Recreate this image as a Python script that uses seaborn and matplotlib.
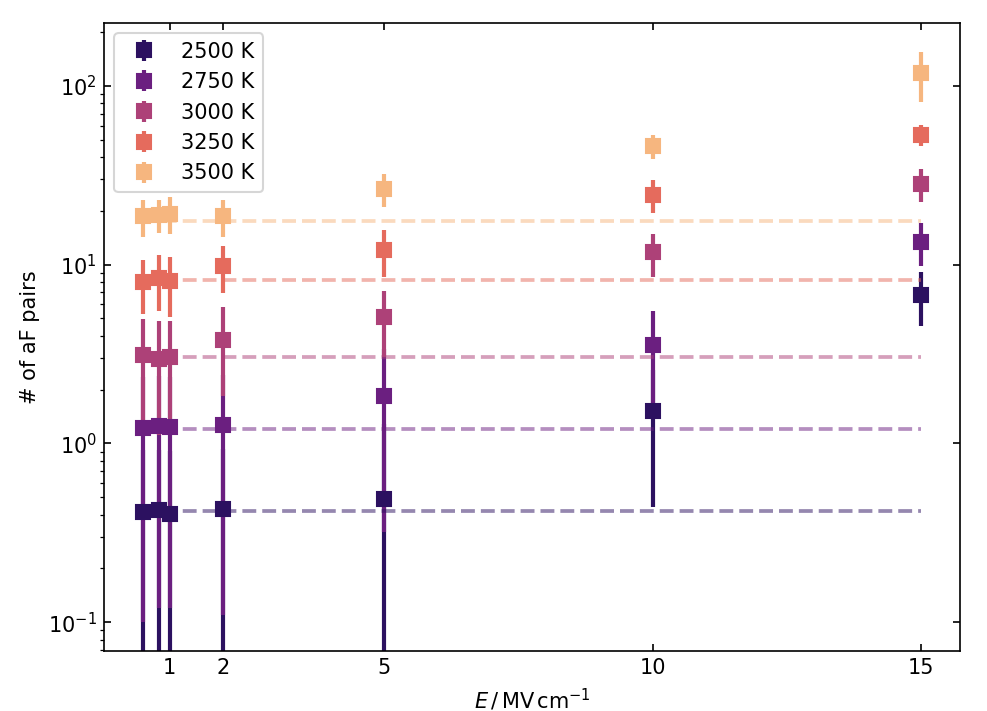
import numpy as np
import pandas as pd
import seaborn as sns
import matplotlib.pyplot as plt

# field strengths (MV/cm)
field = [0.5, 0.8, 1, 2, 5, 10, 15]
temps = ["2500 K", "2750 K", "3000 K", "3250 K", "3500 K"]

# number of aF pairs per temperature, and their error bars
pairs_2500 = [0.415, 0.423, 0.405, 0.428, 0.486, 1.51, 6.80]
pairs_2750 = [1.22, 1.25, 1.23, 1.26, 1.84, 3.57, 13.4]
pairs_3000 = [3.14, 2.97, 3.03, 3.81, 5.10, 11.7, 28.4]
pairs_3250 = [7.97, 8.38, 8.07, 9.87, 12.08, 24.6, 53.2]
pairs_3500 = [18.6, 19.0, 19.3, 18.6, 26.6, 46.2, 118.6]

err_2500 = [0.5, 0.5, 0.5, 0.5, 0.8, 1.07, 2.25]
err_2750 = [1.12, 1.13, 1.11, 1.15, 1.52, 1.96, 3.6]
err_3000 = [1.85, 1.85, 1.84, 1.96, 2.06, 3.2, 6.0]
err_3250 = [2.7, 2.9, 3.0, 2.9, 3.6, 5.2, 7.0]
err_3500 = [4.4, 4.0, 4.5, 4.4, 5.5, 7.0, 37.0]

# zero-field reference levels (dashed lines)
reference = [0.417, 1.21, 3.03, 8.17, 17.5]

pairs = [pairs_2500, pairs_2750, pairs_3000, pairs_3250, pairs_3500]
errs = [err_2500, err_2750, err_3000, err_3250, err_3500]

sns.set_style("ticks", {"axes.edgecolor": "black", "xtick.color": "black",
                        "ytick.color": "black", "text.color": "black",
                        "axes.labelcolor": "black"})
plt.rcParams["font.family"] = ["DejaVu Sans"]
plt.rcParams["font.size"] = 10

# magma-like colours, a bit softer at the warm end
palette = sns.color_palette(["#2c1160", "#6b1f80", "#ad4178", "#e56b5d", "#f6b67f"])

fig = plt.figure(figsize=(987 / 150, 711 / 150), dpi=150)
ax = fig.add_axes([0.1054, 0.0844, 0.8672, 0.8833])

for t, y, e, c in zip(temps, pairs, errs, palette):
    ax.errorbar(field, y, yerr=e, fmt="s", color=c, markersize=6.7,
                elinewidth=2, capsize=0, label=t)

# dashed reference lines across the field range
ref_df = pd.DataFrame({
    "E": np.repeat([field[0], field[-1]], len(temps)),
    "N": reference * 2,
    "T": temps * 2,
})
sns.lineplot(data=ref_df, x="E", y="N", hue="T", palette=palette,
             linestyle="--", linewidth=1.8, alpha=0.5, legend=False, ax=ax)

ax.set_yscale("log")
ax.set_ylim(0.069, 225)
ax.set_xlim(-0.225, 15.725)
ax.set_xticks([1, 2, 5, 10, 15])
ax.set_xticklabels(["1", "2", "5", "10", "15"])

ax.tick_params(which="major", direction="in", top=True, right=True)
ax.tick_params(which="minor", left=True, right=False, direction="out")
for s in ax.spines.values():
    s.set_linewidth(0.8)

ax.set_xlabel(r"$E\,/\,\mathrm{MV\,cm^{-1}}$")
ax.set_ylabel("# of aF pairs")
ax.legend(loc="upper left")

fig.savefig("out.png", dpi=150)
